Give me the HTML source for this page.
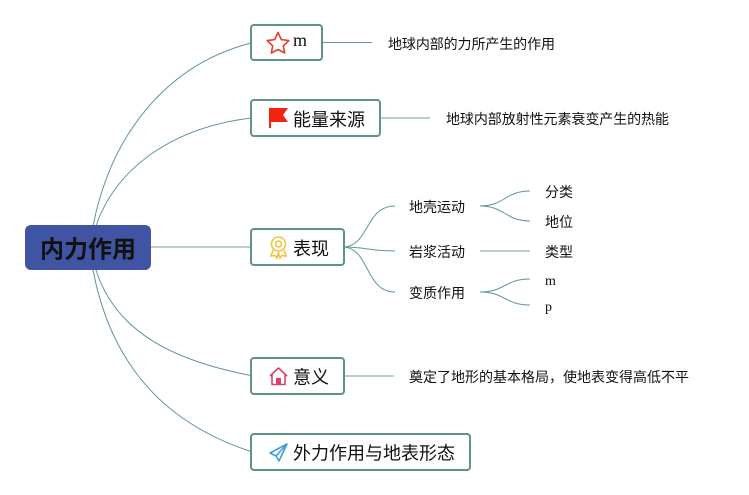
<!DOCTYPE html>
<html>
<head>
<meta charset="utf-8">
<style>
html,body{margin:0;padding:0;background:#fff;width:749px;height:495px;overflow:hidden}
svg{display:block}
text{font-family:"Liberation Sans","Noto Sans CJK SC",sans-serif;fill:#111}
.b{font-size:18px}
.s{font-size:14px}
.l{font-family:"Liberation Serif","Noto Sans CJK SC",serif}
</style>
</head>
<body>
<svg width="749" height="495" viewBox="0 0 749 495" xmlns="http://www.w3.org/2000/svg">
<g fill="none" stroke="#5f9a88" stroke-width="1">
<path d="M93 226C112 130 170 64 251 43"/>
<path d="M96 226C115 170 170 128 251 118"/>
<path d="M96 270C115 330 170 360 251 375.500"/>
<path d="M93 270C112 370 170 425 251 451.500"/>
<path d="M151 247H251" stroke="#9cc4b8" stroke-width="1.400"/>
<path d="M322 42.500H372"/>
<path d="M380 118H430" stroke="#9cc4b8" stroke-width="1.400"/>
<path d="M344 247C370 245 365 206 395 206"/>
<path d="M344 247C365 247 370 251 395 251"/>
<path d="M344 247C370 249 365 292 395 292"/>
<path d="M344 376H394" stroke="#9cc4b8" stroke-width="1.400"/>
<path d="M480 206C505 206 505 191 530 191"/>
<path d="M480 206C505 206 505 221 530 221"/>
<path d="M480 251H530" stroke="#9cc4b8" stroke-width="1.400"/>
<path d="M480 292C505 292 505 279 530 279"/>
<path d="M480 292C505 292 505 305 530 305"/>
</g>
<rect x="25" y="225" width="126" height="45" rx="6" fill="#3f55a3"/>
<text x="88" y="257.500" font-size="24" font-weight="bold" text-anchor="middle">内力作用</text>
<g fill="#fff" stroke="#5f9485" stroke-width="2">
<rect x="251" y="25" width="71" height="35" rx="3"/>
<rect x="251" y="100" width="129" height="36" rx="3"/>
<rect x="251" y="229" width="93" height="36" rx="3"/>
<rect x="251" y="358" width="93" height="36" rx="3"/>
<rect x="251" y="434" width="219" height="36" rx="3"/>
</g>
<path d="M278 32.500L281.300 39.600L288.800 40.600L283.300 45.900L284.700 53L278 49.500L271.300 53L272.700 45.900L267.200 40.600L274.700 39.600Z" fill="none" stroke="#e0402c" stroke-width="1.600" stroke-linejoin="round"/>
<path d="M269 108H288L283 115L288 122H271V128H269Z" fill="#f5210f"/>
<g fill="none" stroke="#f3c340" stroke-width="1.600">
<circle cx="278.500" cy="244" r="7"/>
<circle cx="278.500" cy="244" r="3"/>
<path d="M273 250L271 256L275 255.500L277 258L278.500 253L280 258L282 255.500L286 256L284 250"/>
</g>
<path d="M270 376L278.500 368L287 376M272 374V384.500H285V374" fill="none" stroke="#d8436a" stroke-width="1.600" stroke-linejoin="round"/>
<rect x="276" y="378" width="5" height="6.500" fill="#d8436a"/>
<path d="M287 444L270 453L276 456L279 461L287 444ZM276 456L287 444" fill="none" stroke="#3d9fdc" stroke-width="1.600" stroke-linejoin="round"/>
<text x="293" y="46" class="b l">m</text>
<text x="293" y="126" class="b" textLength="72">能量来源</text>
<text x="293" y="255" class="b" textLength="36">表现</text>
<text x="293" y="383.500" class="b" textLength="36">意义</text>
<text x="293" y="459.500" class="b" textLength="162">外力作用与地表形态</text>
<text x="388" y="49" class="s" textLength="167">地球内部的力所产生的作用</text>
<text x="446" y="124" class="s" textLength="223">地球内部放射性元素衰变产生的热能</text>
<text x="409" y="212" class="s" textLength="56">地壳运动</text>
<text x="409" y="257" class="s" textLength="56">岩浆活动</text>
<text x="409" y="298" class="s" textLength="56">变质作用</text>
<text x="545" y="197" class="s" textLength="28">分类</text>
<text x="545" y="227" class="s" textLength="28">地位</text>
<text x="545" y="257" class="s" textLength="28">类型</text>
<text x="545" y="285" class="s l">m</text>
<text x="545" y="311" class="s l">p</text>
<text x="409" y="382" class="s" textLength="280">奠定了地形的基本格局，使地表变得高低不平</text>
</svg>
</body>
</html>
